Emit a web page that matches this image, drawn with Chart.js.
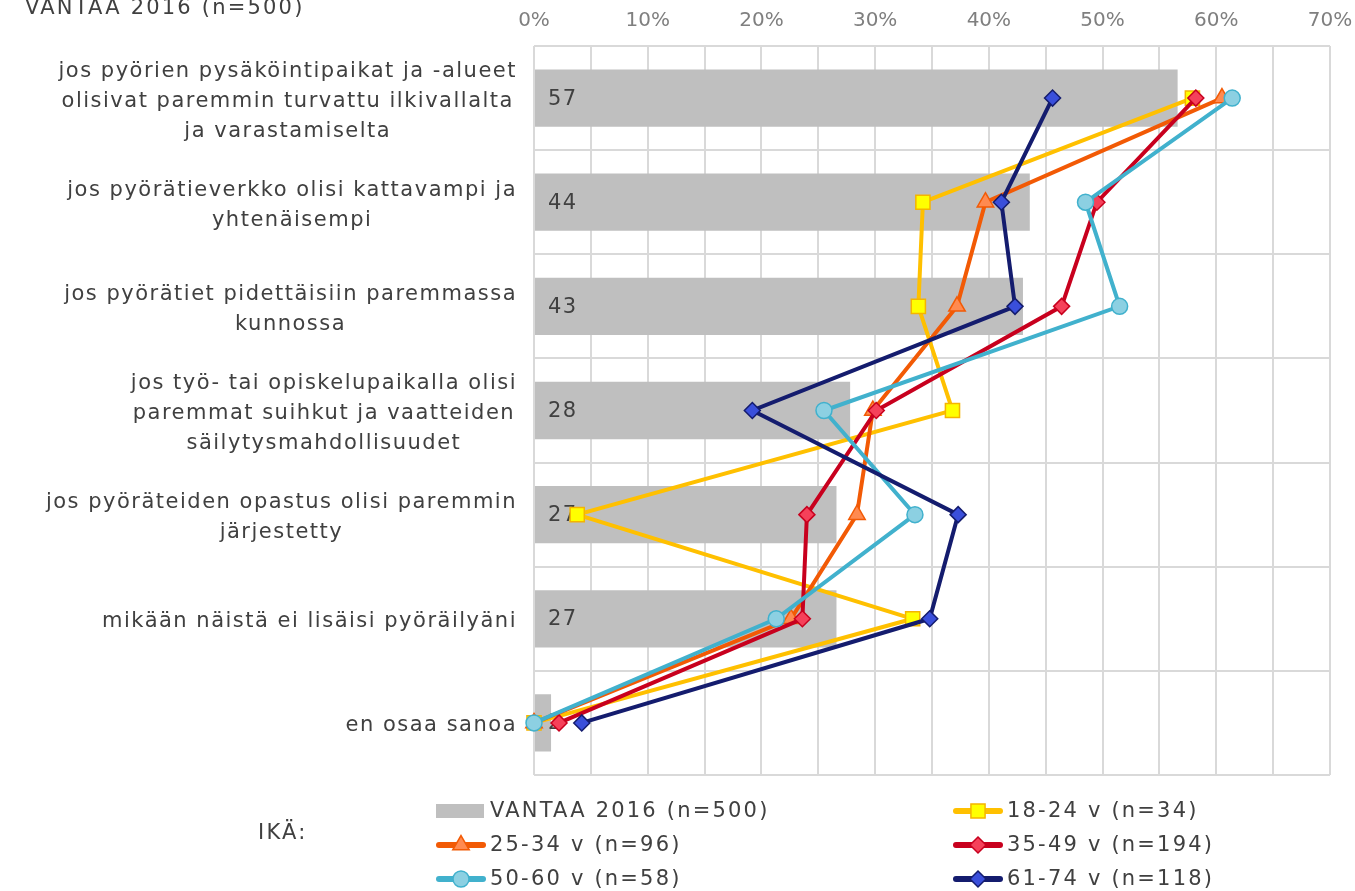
<!DOCTYPE html>
<html><head><meta charset="utf-8">
<script src="https://cdn.jsdelivr.net/npm/chart.js@4.4.1/dist/chart.umd.min.js"></script>
<style>html,body{margin:0;padding:0;background:#fff;overflow:hidden}</style>
</head><body>
<canvas id="c" width="1355" height="891"></canvas>
<script>
// ---------- DATA ----------
const categories = [
  ["jos pyörien pysäköintipaikat ja -alueet", "olisivat paremmin turvattu ilkivallalta", "ja varastamiselta"],
  ["jos pyörätieverkko olisi kattavampi ja", "yhtenäisempi"],
  ["jos pyörätiet pidettäisiin paremmassa", "kunnossa"],
  ["jos työ- tai opiskelupaikalla olisi", "paremmat suihkut ja vaatteiden", "säilytysmahdollisuudet"],
  ["jos pyöräteiden opastus olisi paremmin", "järjestetty"],
  ["mikään näistä ei lisäisi pyöräilyäni"],
  ["en osaa sanoa"]
];
const seriesNames = ["VANTAA 2016 (n=500)", "18-24 v (n=34)", "25-34 v (n=96)", "35-49 v (n=194)", "50-60 v (n=58)", "61-74 v (n=118)"];
const vantaa2016 = [56.6, 43.6, 43.0, 27.8, 26.6, 26.6, 1.5];
const age18_24 = [57.9, 34.2, 33.8, 36.8, 3.8, 33.3, 0];
const age25_34 = [60.5, 39.7, 37.2, 29.8, 28.4, 22.6, 0];
const age35_49 = [58.2, 49.5, 46.4, 30.1, 24.0, 23.6, 2.2];
const age50_60 = [61.4, 48.5, 51.5, 25.5, 33.5, 21.3, 0];
const age61_74 = [45.6, 41.1, 42.3, 19.2, 37.3, 34.8, 4.2];
const xTickValues = [0, 10, 20, 30, 40, 50, 60, 70];
const legendTitle = "IKÄ:";

// ---------- STYLE ----------
const FONT = "'DejaVu Sans', Verdana, sans-serif";
const TEXT = '#404040';
const GRID = '#D9D9D9';
const lineStyles = [
  {line:'#FFC000', fill:'#FFFF00', border:'#F5B400', style:'rect', r:10},
  {line:'#F25A05', fill:'#FF8A50', border:'#F25A05', style:'triangle', r:9.5},
  {line:'#C8001E', fill:'#F5415A', border:'#C8001E', style:'rectRot', r:8},
  {line:'#41B1CD', fill:'#8CD0E2', border:'#41B1CD', style:'circle', r:8},
  {line:'#141C6E', fill:'#3A4FDB', border:'#141C6E', style:'rectRot', r:8}
];
const lineData = [age18_24, age25_34, age35_49, age50_60, age61_74];

function drawMarker(ctx, style, x, y, r, fill, stroke, bw) {
  ctx.save();
  ctx.beginPath();
  if (style === 'rect') { const s = r * Math.SQRT1_2; ctx.rect(x - s, y - s, 2 * s, 2 * s); }
  else if (style === 'rectRot') { ctx.moveTo(x, y - r); ctx.lineTo(x + r, y); ctx.lineTo(x, y + r); ctx.lineTo(x - r, y); ctx.closePath(); }
  else if (style === 'triangle') {
    for (let k = 0; k < 3; k++) { const a = -Math.PI / 2 + k * 2 * Math.PI / 3; const px = x + Math.cos(a) * r, py = y + Math.sin(a) * r; if (k === 0) ctx.moveTo(px, py); else ctx.lineTo(px, py); }
    ctx.closePath();
  } else { ctx.arc(x, y, r, 0, Math.PI * 2); }
  ctx.fillStyle = fill; ctx.fill();
  ctx.lineWidth = bw; ctx.strokeStyle = stroke; ctx.stroke();
  ctx.restore();
}

const datasets = [{
  type: 'bar', label: seriesNames[0], data: vantaa2016, indexAxis: 'y',
  backgroundColor: '#BFBFBF', borderWidth: 0, barPercentage: 0.55, categoryPercentage: 1.0, order: 10
}];
lineData.forEach((d, i) => {
  const s = lineStyles[i];
  datasets.push({
    type: 'line', label: seriesNames[i + 1], data: d, indexAxis: 'y',
    borderColor: s.line, borderWidth: 4, tension: 0, fill: false,
    pointStyle: s.style, pointRadius: s.r, pointHoverRadius: s.r,
    pointBackgroundColor: s.fill, pointBorderColor: s.border, pointBorderWidth: 1.5,
    order: 5 - i, clip: false
  });
});

const labelPlugin = {
  id: 'customText',
  afterDatasetDraw(chart, args) {
    if (args.index !== 0) return;
    const ctx = chart.ctx;
    const meta = chart.getDatasetMeta(0);
    ctx.save();
    ctx.font = '21px ' + FONT; ctx.fillStyle = TEXT;
    ctx.textAlign = 'left'; ctx.textBaseline = 'middle';
    try { ctx.letterSpacing = '1.5px'; } catch (e) {}
    meta.data.forEach((bar, i) => {
      ctx.fillText(String(Math.round(vantaa2016[i])), chart.chartArea.left + 14, bar.y + 1);
    });
    ctx.restore();
  },
  afterDraw(chart) {
    const ctx = chart.ctx;
    const yScale = chart.scales.y;
    ctx.save();
    ctx.font = '21px ' + FONT; ctx.fillStyle = TEXT; ctx.textBaseline = 'middle';
    try { ctx.letterSpacing = '1.5px'; } catch (e) {}
    // category labels: block right-aligned, lines centred within block
    const right = chart.chartArea.left - 17;
    const lh = 30;
    categories.forEach((lines, i) => {
      const cy = yScale.getPixelForValue(i) + 3;
      const w = Math.max(...lines.map(t => ctx.measureText(t).width));
      const cx = right - w / 2;
      ctx.textAlign = 'center';
      lines.forEach((t, k) => {
        ctx.fillText(t, cx, cy + (k - (lines.length - 1) / 2) * lh);
      });
    });
    // cut-off title at top-left
    try { ctx.letterSpacing = '2.2px'; } catch (e) {}
    ctx.textAlign = 'left';
    ctx.textBaseline = 'alphabetic';
    ctx.fillText(seriesNames[0], 25, 14);
    // legend
    ctx.textBaseline = 'middle';
    ctx.fillText(legendTitle, 258, 834);
    const cols = [436, 953];
    const rows = [811, 845, 879];
    const items = [0, 1, 2, 3, 4, 5];
    items.forEach((idx, n) => {
      const x0 = cols[n % 2], y0 = rows[Math.floor(n / 2)];
      if (idx === 0) {
        ctx.fillStyle = '#BFBFBF';
        ctx.fillRect(x0, y0 - 7, 48, 14);
      } else {
        const s = lineStyles[idx - 1];
        ctx.save();
        ctx.beginPath(); ctx.moveTo(x0 + 3, y0); ctx.lineTo(x0 + 47, y0);
        ctx.lineWidth = 6; ctx.lineCap = 'round'; ctx.strokeStyle = s.line; ctx.stroke();
        ctx.restore();
        drawMarker(ctx, s.style, x0 + 25, y0, s.r, s.fill, s.border, 1.5);
      }
      ctx.fillStyle = TEXT; ctx.textAlign = 'left';
      ctx.fillText(seriesNames[idx], x0 + 54, y0 + 1);
    });
    ctx.restore();
  }
};

new Chart(document.getElementById('c'), {
  type: 'bar',
  data: { labels: categories.map(c => c.join(' ')), datasets },
  options: {
    indexAxis: 'y',
    responsive: false, animation: false,
    layout: { padding: { left: 0, right: 25, top: 0, bottom: 116 } },
    plugins: { legend: { display: false }, tooltip: { enabled: false }, title: { display: false } },
    scales: {
      x: {
        position: 'top', min: 0, max: 70,
        ticks: {
          stepSize: 5, autoSkip: false, maxRotation: 0, padding: 13,
          color: '#7F7F7F', font: { family: FONT, size: 20 },
          callback: (v) => xTickValues.includes(v) ? v + '%' : ''
        },
        grid: { color: GRID, lineWidth: 2, drawTicks: false },
        border: { display: false },
        afterFit: (s) => { s.height = 46; s.paddingLeft = 0; s.paddingRight = 0; }
      },
      y: {
        ticks: { display: false },
        grid: { color: GRID, lineWidth: 2, drawTicks: false, offset: true },
        border: { display: false },
        afterFit: (s) => { s.width = 534; s.paddingTop = 0; s.paddingBottom = 0; }
      }
    }
  },
  plugins: [labelPlugin]
});
</script>
</body></html>
